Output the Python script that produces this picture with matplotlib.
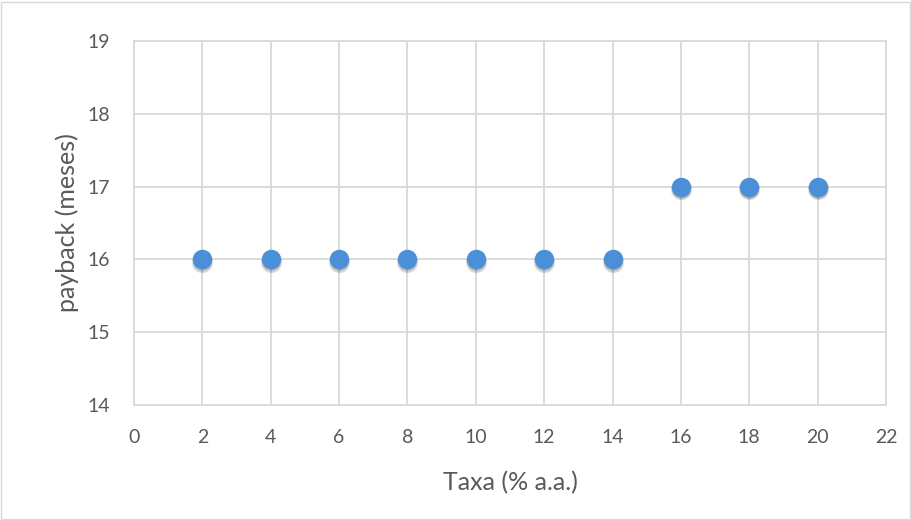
import matplotlib
matplotlib.use("Agg")
import matplotlib.pyplot as plt
from matplotlib.patches import Rectangle

taxa = [2, 4, 6, 8, 10, 12, 14, 16, 18, 20]
payback = [16, 16, 16, 16, 16, 16, 16, 17, 17, 17]
x_ticks = [0, 2, 4, 6, 8, 10, 12, 14, 16, 18, 20, 22]
y_ticks = [14, 15, 16, 17, 18, 19]

plt.rcParams['font.family'] = ['Lato', 'DejaVu Sans']
text_color = '#595959'
grid_color = '#d9d9d9'

fig = plt.figure(figsize=(9.12, 5.2), dpi=100)
ax = fig.add_axes([0.1469, 0.2212, 0.8246, 0.7])

# soft drop shadow under each marker
for dy, a, s in [(-0.04, 0.08, 15.5), (-0.035, 0.10, 14.5), (-0.028, 0.14, 13.5)]:
    ax.plot(taxa, [p + dy for p in payback], 'o', ms=s,
            color='black', alpha=a, mec='none', zorder=3)
ax.plot(taxa, payback, 'o', ms=13, color='#4a8fd8', mec='#4a8fd8', zorder=4)

ax.set_xlim(0, 22)
ax.set_ylim(14, 19)
ax.set_xticks(x_ticks)
ax.set_yticks(y_ticks)
ax.grid(True, color=grid_color, lw=1.3)
ax.set_axisbelow(True)
for sp in ax.spines.values():
    sp.set_color(grid_color)
    sp.set_linewidth(1.3)
ax.tick_params(length=0, colors=text_color, labelsize=14)
ax.tick_params(axis='x', pad=17)
ax.tick_params(axis='y', pad=17)
ax.set_xlabel('Taxa (% a.a.)', fontsize=18, color=text_color, labelpad=18)
ax.set_ylabel('payback (meses)', fontsize=18, color=text_color, labelpad=6)

fig.patches.append(Rectangle((0.001, 0.002), 0.997, 0.995, transform=fig.transFigure,
                             fill=False, ec='#d9d9d9', lw=1.0))
fig.savefig('out.png', dpi=100)
